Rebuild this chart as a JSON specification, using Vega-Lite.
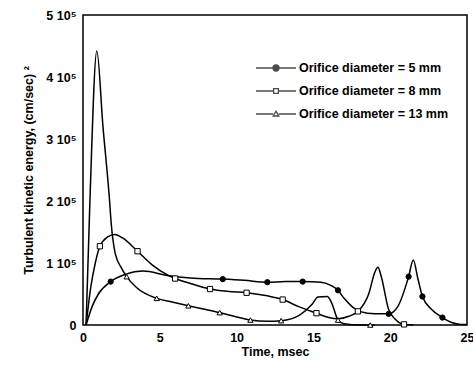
{
  "$schema": "https://vega.github.io/schema/vega-lite/v6.json",
  "autosize": {"type": "none"},
  "width": 384,
  "height": 310,
  "padding": {"left": 83, "top": 15, "right": 6, "bottom": 47},
  "background": "white",
  "config": {
    "view": {"stroke": "black", "strokeWidth": 1.5},
    "font": "Liberation Sans",
    "axis": {"grid": false, "labelFont": "Liberation Sans", "labelFontWeight": "bold", "labelFontSize": 12.5, "labelColor": "black", "titleFont": "Liberation Sans", "titleFontWeight": "bold", "titleFontSize": 12.5, "titleColor": "black", "domain": false, "ticks": false}
  },
  "datasets": {
    "curves": [
      {"series": "Orifice diameter = 5 mm", "t": 0.2, "k": 0},
      {"series": "Orifice diameter = 5 mm", "t": 0.6, "k": 30000},
      {"series": "Orifice diameter = 5 mm", "t": 1.0, "k": 50000},
      {"series": "Orifice diameter = 5 mm", "t": 1.8, "k": 70000},
      {"series": "Orifice diameter = 5 mm", "t": 2.8, "k": 82000},
      {"series": "Orifice diameter = 5 mm", "t": 3.9, "k": 87000},
      {"series": "Orifice diameter = 5 mm", "t": 5.5, "k": 80000},
      {"series": "Orifice diameter = 5 mm", "t": 7.0, "k": 76000},
      {"series": "Orifice diameter = 5 mm", "t": 9.1, "k": 74000},
      {"series": "Orifice diameter = 5 mm", "t": 10.5, "k": 72000},
      {"series": "Orifice diameter = 5 mm", "t": 12.0, "k": 69000},
      {"series": "Orifice diameter = 5 mm", "t": 13.2, "k": 70000},
      {"series": "Orifice diameter = 5 mm", "t": 14.3, "k": 70000},
      {"series": "Orifice diameter = 5 mm", "t": 15.5, "k": 69000},
      {"series": "Orifice diameter = 5 mm", "t": 16.2, "k": 63000},
      {"series": "Orifice diameter = 5 mm", "t": 16.6, "k": 56000},
      {"series": "Orifice diameter = 5 mm", "t": 17.0, "k": 43000},
      {"series": "Orifice diameter = 5 mm", "t": 17.5, "k": 30000},
      {"series": "Orifice diameter = 5 mm", "t": 18.0, "k": 22000},
      {"series": "Orifice diameter = 5 mm", "t": 19.0, "k": 18000},
      {"series": "Orifice diameter = 5 mm", "t": 19.9, "k": 18000},
      {"series": "Orifice diameter = 5 mm", "t": 20.5, "k": 30000},
      {"series": "Orifice diameter = 5 mm", "t": 21.2, "k": 78000},
      {"series": "Orifice diameter = 5 mm", "t": 21.5, "k": 105000},
      {"series": "Orifice diameter = 5 mm", "t": 21.8, "k": 75000},
      {"series": "Orifice diameter = 5 mm", "t": 22.1, "k": 46000},
      {"series": "Orifice diameter = 5 mm", "t": 22.7, "k": 25000},
      {"series": "Orifice diameter = 5 mm", "t": 23.4, "k": 12000},
      {"series": "Orifice diameter = 5 mm", "t": 24.0, "k": 4000},
      {"series": "Orifice diameter = 5 mm", "t": 24.6, "k": 1000},
      {"series": "Orifice diameter = 5 mm", "t": 25.0, "k": 1000},
      {"series": "Orifice diameter = 8 mm", "t": 0.2, "k": 0},
      {"series": "Orifice diameter = 8 mm", "t": 0.5, "k": 60000},
      {"series": "Orifice diameter = 8 mm", "t": 0.8, "k": 100000},
      {"series": "Orifice diameter = 8 mm", "t": 1.1, "k": 127000},
      {"series": "Orifice diameter = 8 mm", "t": 1.6, "k": 142000},
      {"series": "Orifice diameter = 8 mm", "t": 2.08, "k": 146000},
      {"series": "Orifice diameter = 8 mm", "t": 2.6, "k": 140000},
      {"series": "Orifice diameter = 8 mm", "t": 3.55, "k": 119000},
      {"series": "Orifice diameter = 8 mm", "t": 4.5, "k": 97000},
      {"series": "Orifice diameter = 8 mm", "t": 5.55, "k": 80000},
      {"series": "Orifice diameter = 8 mm", "t": 6.0, "k": 75000},
      {"series": "Orifice diameter = 8 mm", "t": 7.0, "k": 67000},
      {"series": "Orifice diameter = 8 mm", "t": 8.27, "k": 58000},
      {"series": "Orifice diameter = 8 mm", "t": 9.5, "k": 54000},
      {"series": "Orifice diameter = 8 mm", "t": 10.65, "k": 52000},
      {"series": "Orifice diameter = 8 mm", "t": 12.0, "k": 47000},
      {"series": "Orifice diameter = 8 mm", "t": 13.0, "k": 41000},
      {"series": "Orifice diameter = 8 mm", "t": 14.0, "k": 30000},
      {"series": "Orifice diameter = 8 mm", "t": 15.2, "k": 19000},
      {"series": "Orifice diameter = 8 mm", "t": 16.0, "k": 12000},
      {"series": "Orifice diameter = 8 mm", "t": 16.6, "k": 10000},
      {"series": "Orifice diameter = 8 mm", "t": 17.3, "k": 14000},
      {"series": "Orifice diameter = 8 mm", "t": 17.9, "k": 22000},
      {"series": "Orifice diameter = 8 mm", "t": 18.6, "k": 50000},
      {"series": "Orifice diameter = 8 mm", "t": 19.0, "k": 85000},
      {"series": "Orifice diameter = 8 mm", "t": 19.2, "k": 93000},
      {"series": "Orifice diameter = 8 mm", "t": 19.4, "k": 80000},
      {"series": "Orifice diameter = 8 mm", "t": 19.9, "k": 25000},
      {"series": "Orifice diameter = 8 mm", "t": 20.3, "k": 10000},
      {"series": "Orifice diameter = 8 mm", "t": 20.9, "k": 1000},
      {"series": "Orifice diameter = 8 mm", "t": 21.5, "k": 0},
      {"series": "Orifice diameter = 13 mm", "t": 0.2, "k": 0},
      {"series": "Orifice diameter = 13 mm", "t": 0.45, "k": 200000},
      {"series": "Orifice diameter = 13 mm", "t": 0.9, "k": 442000},
      {"series": "Orifice diameter = 13 mm", "t": 1.3, "k": 320000},
      {"series": "Orifice diameter = 13 mm", "t": 1.7, "k": 210000},
      {"series": "Orifice diameter = 13 mm", "t": 1.85, "k": 160000},
      {"series": "Orifice diameter = 13 mm", "t": 2.1, "k": 115000},
      {"series": "Orifice diameter = 13 mm", "t": 2.5, "k": 92000},
      {"series": "Orifice diameter = 13 mm", "t": 2.84, "k": 78000},
      {"series": "Orifice diameter = 13 mm", "t": 3.5, "k": 60000},
      {"series": "Orifice diameter = 13 mm", "t": 4.8, "k": 43000},
      {"series": "Orifice diameter = 13 mm", "t": 5.8, "k": 37000},
      {"series": "Orifice diameter = 13 mm", "t": 6.86, "k": 31000},
      {"series": "Orifice diameter = 13 mm", "t": 8.0, "k": 25000},
      {"series": "Orifice diameter = 13 mm", "t": 8.9, "k": 20000},
      {"series": "Orifice diameter = 13 mm", "t": 10.0, "k": 13000},
      {"series": "Orifice diameter = 13 mm", "t": 10.9, "k": 8000},
      {"series": "Orifice diameter = 13 mm", "t": 12.0, "k": 6000},
      {"series": "Orifice diameter = 13 mm", "t": 12.9, "k": 7000},
      {"series": "Orifice diameter = 13 mm", "t": 14.1, "k": 16000},
      {"series": "Orifice diameter = 13 mm", "t": 14.9, "k": 33000},
      {"series": "Orifice diameter = 13 mm", "t": 15.3, "k": 45000},
      {"series": "Orifice diameter = 13 mm", "t": 15.9, "k": 46000},
      {"series": "Orifice diameter = 13 mm", "t": 16.2, "k": 35000},
      {"series": "Orifice diameter = 13 mm", "t": 16.6, "k": 8000},
      {"series": "Orifice diameter = 13 mm", "t": 17.0, "k": 2000},
      {"series": "Orifice diameter = 13 mm", "t": 18.0, "k": 0},
      {"series": "Orifice diameter = 13 mm", "t": 19.0, "k": 0}
    ],
    "markers": [
      {"series": "Orifice diameter = 5 mm", "t": 1.8, "k": 70000},
      {"series": "Orifice diameter = 5 mm", "t": 9.1, "k": 74000},
      {"series": "Orifice diameter = 5 mm", "t": 12.0, "k": 69000},
      {"series": "Orifice diameter = 5 mm", "t": 14.3, "k": 70000},
      {"series": "Orifice diameter = 5 mm", "t": 16.6, "k": 56000},
      {"series": "Orifice diameter = 5 mm", "t": 19.9, "k": 18000},
      {"series": "Orifice diameter = 5 mm", "t": 21.2, "k": 78000},
      {"series": "Orifice diameter = 5 mm", "t": 22.1, "k": 46000},
      {"series": "Orifice diameter = 5 mm", "t": 23.4, "k": 12000},
      {"series": "Orifice diameter = 8 mm", "t": 1.1, "k": 127000},
      {"series": "Orifice diameter = 8 mm", "t": 3.55, "k": 119000},
      {"series": "Orifice diameter = 8 mm", "t": 6.0, "k": 75000},
      {"series": "Orifice diameter = 8 mm", "t": 8.27, "k": 58000},
      {"series": "Orifice diameter = 8 mm", "t": 10.65, "k": 52000},
      {"series": "Orifice diameter = 8 mm", "t": 13.0, "k": 41000},
      {"series": "Orifice diameter = 8 mm", "t": 15.2, "k": 19000},
      {"series": "Orifice diameter = 8 mm", "t": 17.9, "k": 22000},
      {"series": "Orifice diameter = 8 mm", "t": 20.9, "k": 1000},
      {"series": "Orifice diameter = 13 mm", "t": 2.84, "k": 78000},
      {"series": "Orifice diameter = 13 mm", "t": 4.8, "k": 43000},
      {"series": "Orifice diameter = 13 mm", "t": 6.86, "k": 31000},
      {"series": "Orifice diameter = 13 mm", "t": 8.9, "k": 20000},
      {"series": "Orifice diameter = 13 mm", "t": 10.9, "k": 8000},
      {"series": "Orifice diameter = 13 mm", "t": 12.9, "k": 7000},
      {"series": "Orifice diameter = 13 mm", "t": 16.6, "k": 8000},
      {"series": "Orifice diameter = 13 mm", "t": 18.7, "k": 0}
    ]
  },
  "encoding": {
    "x": {"field": "t", "type": "quantitative", "scale": {"domain": [0, 25], "nice": false, "zero": false},
      "axis": {"values": [0, 5, 10, 15, 20, 25], "title": "Time, msec", "labelPadding": 6, "titlePadding": 2, "labelFlush": false}},
    "y": {"field": "k", "type": "quantitative", "scale": {"domain": [0, 500000], "nice": false},
      "axis": {"values": [0, 100000, 200000, 300000, 400000, 500000], "labelExpr": "datum.value == 0 ? '0' : (datum.value / 100000) + ' 10⁵'", "title": "Turbulent kinetic energy, (cm/sec) ²", "labelPadding": 7, "titlePadding": 10, "labelFlush": false}}
  },
  "layer": [
    {
      "data": {"name": "curves"},
      "mark": {"type": "line", "interpolate": "monotone", "color": "black", "strokeWidth": 1.5},
      "encoding": {"detail": {"field": "series"}, "order": {"field": "t"}}
    },
    {
      "data": {"name": "markers"},
      "mark": {"type": "point", "filled": true, "stroke": "black", "strokeWidth": 1, "size": 28, "opacity": 1},
      "encoding": {
        "shape": {"field": "series", "scale": {"domain": ["Orifice diameter = 5 mm", "Orifice diameter = 8 mm", "Orifice diameter = 13 mm"], "range": ["circle", "square", "triangle-up"]}, "legend": null},
        "fill": {"field": "series", "scale": {"domain": ["Orifice diameter = 5 mm", "Orifice diameter = 8 mm", "Orifice diameter = 13 mm"], "range": ["black", "white", "white"]}, "legend": null}
      }
    },
    {
      "data": {"name": "markers"},
      "transform": [{"filter": "false"}],
      "mark": {"type": "point", "filled": false, "stroke": "black", "strokeWidth": 1.3, "size": 1600},
      "encoding": {
        "shape": {"field": "series", "scale": {"domain": ["Orifice diameter = 5 mm", "Orifice diameter = 8 mm", "Orifice diameter = 13 mm"],
          "range": [
            "M-1,0L1,0M0.15,0A0.15,0.15 0 1 1 -0.15,0A0.15,0.15 0 1 1 0.15,0ZM0.1,0A0.1,0.1 0 1 1 -0.1,0A0.1,0.1 0 1 1 0.1,0ZM0.05,0A0.05,0.05 0 1 1 -0.05,0A0.05,0.05 0 1 1 0.05,0Z",
            "M-1,0L-0.12,0M0.12,0L1,0M-0.12,-0.12L0.12,-0.12L0.12,0.12L-0.12,0.12Z",
            "M-1,0L-0.14,0M0.14,0L1,0M0,-0.14L0.14,0.1L-0.14,0.1Z"
          ]},
          "legend": {
            "title": null, "orient": "none", "legendX": 172, "legendY": 45, "padding": 0,
            "clipHeight": 16, "rowPadding": 7, "symbolSize": 1600, "symbolStrokeWidth": 1.3, "symbolStrokeColor": "black", "symbolFillColor": "white",
            "labelFont": "Liberation Sans", "labelFontWeight": "bold", "labelFontSize": 12.5, "labelColor": "black", "labelOffset": 2, "labelLimit": 300
          }
        }
      }
    }
  ],
  "resolve": {"scale": {"shape": "independent"}}
}
